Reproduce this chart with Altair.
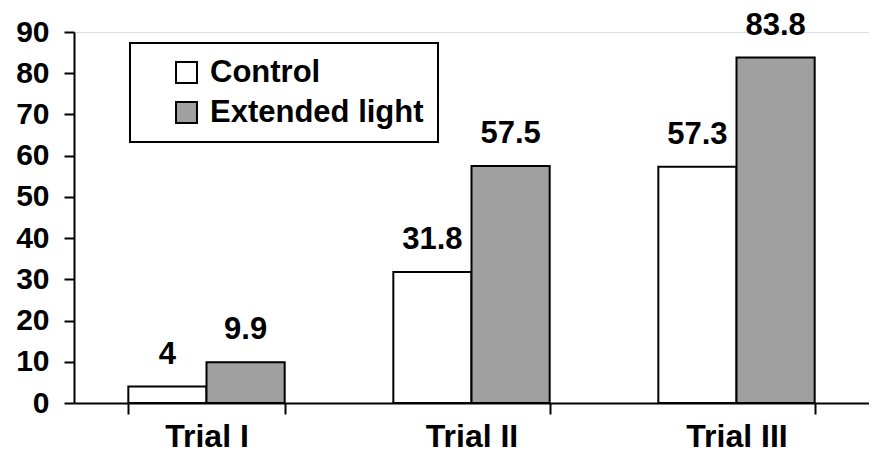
import altair as alt
import pandas as pd

trials = ["Trial I", "Trial II", "Trial III"]
groups = ["Control", "Extended light"]
control = [4, 31.8, 57.3]
extended = [9.9, 57.5, 83.8]
y_ticks = [0, 10, 20, 30, 40, 50, 60, 70, 80, 90]

rows = []
for t, c, e in zip(trials, control, extended):
    rows.append({"trial": t, "group": groups[0], "value": c, "label": f"{c:g}"})
    rows.append({"trial": t, "group": groups[1], "value": e, "label": f"{e:g}"})
df = pd.DataFrame(rows)

FONT = "Liberation Sans"

x = alt.X("trial:N", sort=trials, title=None,
          scale=alt.Scale(paddingInner=0.41, paddingOuter=0.205),
          axis=alt.Axis(labelAngle=0, labelFontSize=32, labelFont=FONT, labelFontWeight="bold",
                        labelColor="black", tickBand="extent", tickSize=11, tickWidth=2,
                        tickColor="black", domainColor="black", domainWidth=2, labelPadding=7))
xo = alt.XOffset("group:N", sort=groups, scale=alt.Scale(paddingInner=0, paddingOuter=0))
y = alt.Y("value:Q", title=None,
          scale=alt.Scale(domain=[0, 90], nice=False),
          axis=alt.Axis(values=y_ticks, grid=False, labelFontSize=30, labelFont=FONT,
                        labelFontWeight="bold", labelColor="black", tickSize=10, tickWidth=2,
                        tickColor="black", domainColor="black", domainWidth=2, labelPadding=15))

bars = alt.Chart(df).mark_bar(stroke="black", strokeWidth=2, opacity=1).encode(
    x=x, xOffset=xo, y=y,
    fill=alt.Fill("group:N", sort=groups,
                  scale=alt.Scale(domain=groups, range=["#ffffff", "#a0a0a0"]),
                  legend=alt.Legend(title=None, orient="none", legendX=56, legendY=11,
                                    strokeColor="black", padding=14,
                                    symbolType="square", symbolSize=440, symbolStrokeColor="black",
                                    symbolStrokeWidth=2, symbolOffset=27,
                                    labelFontSize=31, labelFont=FONT, labelFontWeight="bold",
                                    labelColor="black", labelOffset=8, labelLimit=400,
                                    fillColor="white")),
)

labels = alt.Chart(df).mark_text(baseline="bottom", dy=-16, fontSize=31, font=FONT,
                                 fontWeight="bold", color="black").encode(
    x=x, xOffset=xo, y=y, text="label:N"
)

chart = (bars + labels).properties(
    width=795, height=371,
    autosize=alt.AutoSizeParams(type="none"),
    padding={"left": 66, "top": 24, "right": 0, "bottom": 55},
).configure_view(stroke=None).configure(background="white").configure_legend(
    strokeWidth=2, rowPadding=8
)

chart.save("out.html", embed_options={"renderer": "svg", "actions": False})
